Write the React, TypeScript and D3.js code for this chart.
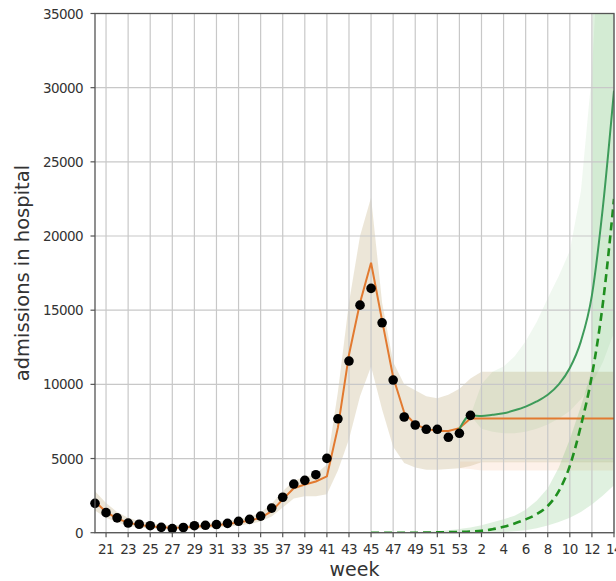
import React from "react";
import * as d3 from "d3";

// week labels: 2020 weeks 20..53, then 2021 weeks 1..14 (one entry per index)
const weeks = [
  20, 21, 22, 23, 24, 25, 26, 27, 28, 29, 30, 31, 32, 33, 34, 35, 36, 37, 38, 39, 40,
  41, 42, 43, 44, 45, 46, 47, 48, 49, 50, 51, 52, 53,
  1, 2, 3, 4, 5, 6, 7, 8, 9, 10, 11, 12, 13, 14,
];

// observed admissions (black dots), from index 0
const observed = [
  1980, 1350, 1000, 650, 570, 470, 360, 280, 350, 470, 500, 550, 630, 770, 900, 1120,
  1660, 2390, 3280, 3530, 3910, 5010, 7680, 11570, 15340, 16470, 14150, 10290, 7800,
  7260, 6970, 6970, 6430, 6700, 7910,
];

// fitted model (orange) and its band, from index 0
const fitted = [
  2100, 1400, 950, 680, 520, 430, 370, 340, 350, 400, 450, 510, 590, 690, 820, 1000,
  1450, 2250, 3000, 3250, 3450, 3800, 7100, 12000, 15500, 18200, 14300, 10500, 8100,
  7300, 7000, 6850, 6850, 7050, 7700,
  7700, 7700, 7700, 7700, 7700, 7700, 7700, 7700, 7700, 7700, 7700, 7700, 7700,
];
const fitUpper = [
  2800, 2000, 1400, 1000, 780, 650, 560, 510, 510, 560, 630, 710, 810, 930, 1080, 1350,
  1950, 2800, 3500, 3750, 3950, 4600, 9500, 15500, 20000, 22600, 15500, 11500, 10000,
  9600, 9200, 9060, 9300, 9700, 10400,
  10850, 10850, 10850, 10850, 10850, 10850, 10850, 10850, 10850, 10850, 10850, 10850, 10850,
];
const fitLower = [
  1500, 1000, 700, 450, 350, 280, 230, 200, 200, 250, 300, 350, 400, 480, 580, 750,
  1100, 1700, 2300, 2450, 2450, 2600, 4200, 6300, 9200, 11200, 8300, 5800, 4700,
  4400, 4250, 4250, 4300, 4350, 4500,
  4750, 4750, 4750, 4750, 4750, 4750, 4750, 4750, 4750, 4750, 4750, 4750, 4750,
];

// faint pink band, from index 33
const pinkLower = [4350, 4300, 4200, 4200, 4200, 4200, 4200, 4200, 4200, 4200, 4200, 4200, 4200, 4200, 4200];
const pinkUpper = [4800, 4800, 4800, 4800, 4800, 4800, 4800, 4800, 4800, 4800, 4800, 4800, 4800, 4800, 4800];

// scenario A (solid green), from index 33; band from index 34
const scenarioA = [7000, 7910, 7870, 7950, 8050, 8250, 8500, 8850, 9300, 10000, 11100, 12900, 16000, 22000, 29800];
const scenarioALower = [7900, 7000, 6800, 6700, 6700, 6800, 7000, 7300, 7700, 8200, 9000, 10000, 11500, 13500];
const scenarioAUpper = [7900, 10000, 10850, 11200, 11900, 12900, 14200, 15800, 17300, 19000, 23000, 31000, 45000, 60000];

// scenario B (dashed green) and band, from index 25
const scenarioB = [0, 0, 0, 0, 0, 10, 20, 35, 55, 80, 130, 230, 400, 620, 900, 1250, 1800, 2800, 4500, 7200, 10600, 15500, 22500];
const scenarioBLower = [0, 0, 0, 0, 0, 0, 0, 0, 0, 0, 0, 10, 40, 90, 170, 300, 480, 720, 1000, 1400, 1900, 2500, 3200];
const scenarioBUpper = [0, 0, 10, 20, 40, 70, 110, 170, 250, 350, 500, 700, 900, 1150, 1550, 2150, 3000, 4400, 6300, 8500, 11000, 400000, 400000];

const yTicks = [0, 5000, 10000, 15000, 20000, 25000, 30000, 35000];

const W = 616;
const H = 581;
const left = 95;
const right = 614;
const top = 13.5;
const bottom = 532.7;
const font = "DejaVu Sans, sans-serif";

const App = () => {
  const x = d3.scaleLinear().domain([0, weeks.length - 1]).range([left, right]);
  const y = d3.scaleLinear().domain([0, 35000]).range([bottom, top]);

  const line = (vals: number[], start: number, curve: d3.CurveFactory) =>
    d3
      .line<number>()
      .x((d, i) => x(i + start))
      .y((d) => y(d))
      .curve(curve)(vals) || "";

  const band = (lo: number[], hi: number[], start: number) =>
    d3
      .area<number>()
      .x((d, i) => x(i + start))
      .y0((d) => y(d))
      .y1((d, i) => y(hi[i]))
      .curve(d3.curveLinear)(lo) || "";

  const tickIdx = weeks.map((w, i) => i).filter((i) => i % 2 === 1);

  return (
    <svg width={W} height={H} style={{ position: "absolute", left: 0, top: 0, background: "#fff" }}>
      <defs>
        <clipPath id="plot">
          <rect x={left} y={top} width={right - left} height={bottom - top} />
        </clipPath>
      </defs>

      <g clipPath="url(#plot)">
        <path d={band(pinkLower, pinkUpper, 33)} fill="#f4a46a" fillOpacity={0.15} />
        <path d={band(fitLower, fitUpper, 0)} fill="#c8b890" fillOpacity={0.35} />
        <path d={band(scenarioALower, scenarioAUpper, 34)} fill="#2ca02c" fillOpacity={0.07} />
        <path d={band(scenarioBLower, scenarioBUpper, 25)} fill="#2ca02c" fillOpacity={0.15} />
      </g>

      {/* grid */}
      <g stroke="#c8c8c8" strokeWidth={1.2}>
        {tickIdx.map((i) => (
          <line key={"gx" + i} x1={x(i)} x2={x(i)} y1={top} y2={bottom} />
        ))}
        {yTicks.map((t) => (
          <line key={"gy" + t} x1={left} x2={right} y1={y(t)} y2={y(t)} />
        ))}
      </g>

      <g clipPath="url(#plot)" fill="none">
        <path d={line(fitted, 0, d3.curveLinear)} stroke="#e27a30" strokeWidth={2} />
        <path d={line(scenarioA, 33, d3.curveMonotoneX)} stroke="#3d9b5a" strokeWidth={2} />
        <path d={line(scenarioB, 25, d3.curveMonotoneX)} stroke="#1f8f1f" strokeWidth={2.6} strokeDasharray="8,5" />
      </g>

      <g fill="#000">
        {observed.map((v, i) => (
          <circle key={"o" + i} cx={x(i)} cy={y(v)} r={4.8} />
        ))}
      </g>

      {/* spines */}
      <rect x={left} y={top} width={right - left} height={bottom - top} fill="none" stroke="#555" strokeWidth={1.3} />

      {/* y axis */}
      <g fontFamily={font} fontSize={13.5} fill="#333" letterSpacing={-0.6}>
        {yTicks.map((t) => (
          <g key={"yt" + t}>
            <line x1={left - 4.5} x2={left} y1={y(t)} y2={y(t)} stroke="#555" strokeWidth={1.2} />
            <text x={83} y={y(t)} textAnchor="end" dominantBaseline="central">
              {t}
            </text>
          </g>
        ))}
      </g>

      {/* x axis */}
      <g fontFamily={font} fontSize={13.5} fill="#333" letterSpacing={-0.6}>
        {tickIdx.map((i) => (
          <g key={"xt" + i}>
            <line x1={x(i)} x2={x(i)} y1={bottom} y2={bottom + 4.5} stroke="#555" strokeWidth={1.2} />
            <text x={x(i)} y={554} textAnchor="middle">
              {weeks[i]}
            </text>
          </g>
        ))}
      </g>

      <text x={(left + right) / 2} y={576} textAnchor="middle" fontFamily={font} fontSize={19} fill="#333">
        week
      </text>
      <text
        transform={`translate(28.5,${(top + bottom) / 2}) rotate(-90)`}
        textAnchor="middle"
        fontFamily={font}
        fontSize={19.5}
        fill="#333"
      >
        admissions in hospital
      </text>
    </svg>
  );
};

export default App;
